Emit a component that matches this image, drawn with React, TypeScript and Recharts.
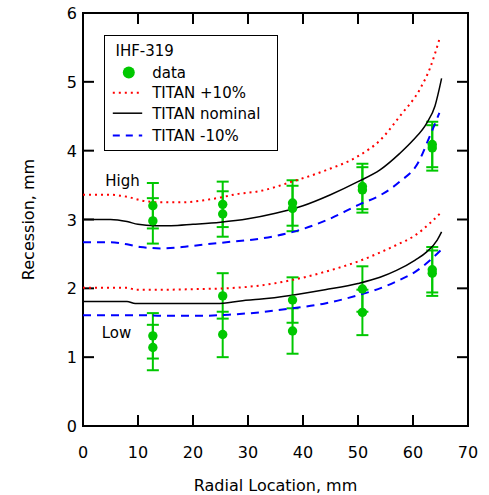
import {
  ComposedChart,
  ErrorBar,
  Label,
  Legend,
  Line,
  ReferenceArea,
  ReferenceDot,
  ReferenceLine,
  Scatter,
  XAxis,
  YAxis,
} from "recharts";

const FONT = "'DejaVu Sans', Verdana, sans-serif";
const GREEN = "#00c800";

// measured recession, two samples per location and group
const radialPositions = [12.7, 25.4, 38.1, 50.8, 63.5];
const highSampleA = [3.2, 3.22, 3.24, 3.48, 4.09];
const highSampleB = [2.98, 3.08, 3.16, 3.43, 4.04];
const lowSampleA = [1.31, 1.89, 1.83, 1.99, 2.27];
const lowSampleB = [1.14, 1.33, 1.38, 1.65, 2.22];
const recessionError = [0.33, 0.33, 0.33, 0.33, 0.33];

// TITAN predictions, high case
const highNominalX = [0, 5, 8, 10, 13, 16, 20, 25, 30, 35, 40, 45, 50, 54, 57.6, 60, 62.5, 64, 65.2];
const highNominalY = [3.0, 3.0, 2.97, 2.93, 2.91, 2.91, 2.93, 2.96, 3.01, 3.09, 3.2, 3.36, 3.55, 3.72, 3.96, 4.15, 4.4, 4.65, 5.05];
const highPlusX = [0, 5, 8, 11, 14, 18, 22, 25, 28, 32, 38, 44, 50, 54, 57.6, 61.3, 63.1, 64.8];
const highPlusY = [3.36, 3.36, 3.33, 3.27, 3.25, 3.25, 3.28, 3.32, 3.37, 3.41, 3.55, 3.71, 3.92, 4.15, 4.5, 4.9, 5.2, 5.62];
const highMinusX = [0, 5, 8, 10.4, 14.6, 18, 21.3, 27.3, 32, 38.2, 44.3, 50.3, 54, 57.6, 60.9, 63, 64.8];
const highMinusY = [2.67, 2.67, 2.64, 2.6, 2.58, 2.6, 2.63, 2.68, 2.72, 2.82, 2.99, 3.22, 3.35, 3.55, 3.82, 4.2, 4.55];

// TITAN predictions, low case
const lowNominalX = [0, 8, 9.5, 15, 20, 24.3, 29, 32, 38, 44, 50, 54, 57, 60.4, 62.5, 64.4, 65.2];
const lowNominalY = [1.81, 1.81, 1.78, 1.78, 1.78, 1.78, 1.82, 1.84, 1.9, 1.98, 2.07, 2.16, 2.26, 2.41, 2.53, 2.7, 2.82];
const lowPlusX = [0, 8, 9.5, 15, 21, 26, 31, 38, 44, 50, 54, 57, 60.4, 63, 65.2];
const lowPlusY = [2.01, 2.01, 1.98, 1.98, 1.99, 2.0, 2.03, 2.12, 2.24, 2.39, 2.52, 2.63, 2.77, 2.94, 3.11];
const lowMinusX = [0, 10, 15, 21, 27, 32, 38, 44, 50, 54, 57, 60.4, 63, 65];
const lowMinusY = [1.61, 1.61, 1.6, 1.6, 1.62, 1.65, 1.71, 1.78, 1.9, 2.0, 2.1, 2.24, 2.4, 2.55];

const xTicks = [0, 10, 20, 30, 40, 50, 60, 70];
const yTicks = [0, 1, 2, 3, 4, 5, 6];

// inward tick length in axis units (about 11px each way)
const X_TICK_LEN = 0.16;
const Y_TICK_LEN = 2;

const toCurve = (xs: number[], ys: number[]) => xs.map((x, i) => ({ x, y: ys[i] }));

const measured = [highSampleA, highSampleB, lowSampleA, lowSampleB].flatMap((vals) =>
  radialPositions.map((x, i) => ({ x, y: vals[i], err: recessionError[i] }))
);

const bottomTick = ({ x, y, payload }: any) => (
  <text x={x} y={y + 32} textAnchor="middle" fontSize={16} fontFamily={FONT} fill="#000">
    {payload.value}
  </text>
);

const leftTick = ({ x, y, payload }: any) => (
  <text x={x - 6} y={y + 6} textAnchor="end" fontSize={16} fontFamily={FONT} fill="#000">
    {payload.value}
  </text>
);

const LegendBox = () => (
  <div
    style={{
      width: 174,
      height: 116,
      border: "1.5px solid #000",
      boxSizing: "border-box",
      background: "#fff",
    }}
  >
    <svg width={171} height={113} style={{ display: "block" }} fontFamily={FONT} fontSize={15}>
      <text x={10.5} y={20}>IHF-319</text>
      <circle cx={23.8} cy={36.5} r={6} fill={GREEN} />
      <text x={47.2} y={41.8}>data</text>
      <line x1={7.8} y1={56.8} x2={37.2} y2={56.8} stroke="#ff0000" strokeWidth={2} strokeDasharray="2 4" />
      <text x={47.2} y={62.1}>TITAN +10%</text>
      <line x1={7.8} y1={77.2} x2={37.2} y2={77.2} stroke="#000" strokeWidth={1.5} />
      <text x={47.2} y={82.5}>TITAN nominal</text>
      <line x1={7.8} y1={99.5} x2={37.2} y2={99.5} stroke="#0000ff" strokeWidth={2} strokeDasharray="7 6" />
      <text x={47.2} y={104.8}>TITAN -10%</text>
    </svg>
  </div>
);

const Dot = ({ cx, cy }: any) => <circle cx={cx} cy={cy} r={4.7} fill={GREEN} />;

const curveProps = { dataKey: "y", type: "monotone" as const, dot: false, isAnimationActive: false };
const tickMark = { stroke: "#000", strokeWidth: 2, ifOverflow: "visible" as const };

export default function App() {
  return (
    <div style={{ position: "absolute", left: 0, top: 0, width: 489, height: 495, background: "#fff" }}>
      <ComposedChart
        width={489}
        height={495}
        margin={{ top: 13, right: 21, bottom: 0, left: 0 }}
        style={{ fontFamily: FONT }}
      >
        <XAxis
          dataKey="x"
          type="number"
          domain={[0, 70]}
          ticks={xTicks}
          allowDataOverflow
          height={69}
          tickLine={false}
          axisLine={false}
          tickSize={0}
          tickMargin={0}
          tick={bottomTick}
        >
          <Label
            content={({ viewBox }: any) => (
              <text
                x={viewBox.x + viewBox.width / 2}
                y={viewBox.y + 65}
                textAnchor="middle"
                fontSize={16}
                fontFamily={FONT}
                fill="#000"
              >
                Radial Location, mm
              </text>
            )}
          />
        </XAxis>
        <YAxis
          type="number"
          domain={[0, 6]}
          ticks={yTicks}
          allowDataOverflow
          width={83}
          tickLine={false}
          axisLine={false}
          tickSize={0}
          tickMargin={0}
          tick={leftTick}
        >
          <Label
            content={({ viewBox }: any) => {
              const cx = viewBox.x + 34;
              const cy = viewBox.y + viewBox.height / 2;
              return (
                <text
                  x={cx}
                  y={cy}
                  transform={`rotate(-90 ${cx} ${cy})`}
                  textAnchor="middle"
                  fontSize={16}
                  fontFamily={FONT}
                  fill="#000"
                >
                  Recession, mm
                </text>
              );
            }}
          />
        </YAxis>
        <Legend
          layout="vertical"
          align="center"
          verticalAlign="middle"
          content={() => <LegendBox />}
          wrapperStyle={{ left: 104, top: 35, width: 174, height: 116 }}
        />
        <ReferenceArea x1={0} x2={70} y1={0} y2={6} fill="none" stroke="#000" strokeWidth={2} ifOverflow="visible" />
        {xTicks.map((t) => (
          <ReferenceLine key={`xb${t}`} segment={[{ x: t, y: 0 }, { x: t, y: X_TICK_LEN }]} {...tickMark} />
        ))}
        {xTicks.map((t) => (
          <ReferenceLine key={`xt${t}`} segment={[{ x: t, y: 6 }, { x: t, y: 6 - X_TICK_LEN }]} {...tickMark} />
        ))}
        {yTicks.map((t) => (
          <ReferenceLine key={`yl${t}`} segment={[{ x: 0, y: t }, { x: Y_TICK_LEN, y: t }]} {...tickMark} />
        ))}
        {yTicks.map((t) => (
          <ReferenceLine key={`yr${t}`} segment={[{ x: 70, y: t }, { x: 70 - Y_TICK_LEN, y: t }]} {...tickMark} />
        ))}
        <Scatter data={measured} dataKey="y" shape={<Dot />} isAnimationActive={false}>
          <ErrorBar dataKey="err" direction="y" width={6} stroke={GREEN} strokeWidth={2} isAnimationActive={false} />
        </Scatter>
        <Line data={toCurve(highPlusX, highPlusY)} {...curveProps} stroke="#ff0000" strokeWidth={2} strokeDasharray="2 4" />
        <Line data={toCurve(highNominalX, highNominalY)} {...curveProps} stroke="#000" strokeWidth={1.5} />
        <Line data={toCurve(highMinusX, highMinusY)} {...curveProps} stroke="#0000ff" strokeWidth={2} strokeDasharray="8 6" />
        <Line data={toCurve(lowPlusX, lowPlusY)} {...curveProps} stroke="#ff0000" strokeWidth={2} strokeDasharray="2 4" />
        <Line data={toCurve(lowNominalX, lowNominalY)} {...curveProps} stroke="#000" strokeWidth={1.5} />
        <Line data={toCurve(lowMinusX, lowMinusY)} {...curveProps} stroke="#0000ff" strokeWidth={2} strokeDasharray="8 6" />
        <ReferenceDot x={7.2} y={3.56} r={0} fill="none" stroke="none" label={{ value: "High", position: "center", fontSize: 15, fill: "#000", fontFamily: FONT }} />
        <ReferenceDot x={6.1} y={1.35} r={0} fill="none" stroke="none" label={{ value: "Low", position: "center", fontSize: 15, fill: "#000", fontFamily: FONT }} />
      </ComposedChart>
    </div>
  );
}
